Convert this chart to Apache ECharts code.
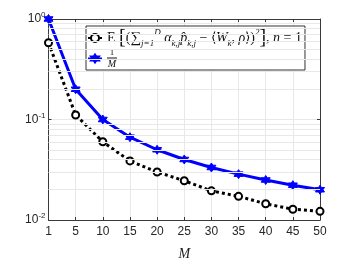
<!DOCTYPE html>
<html><head><meta charset="utf-8">
<script src="https://cdn.jsdelivr.net/npm/echarts@6/dist/echarts.min.js"></script>
<style>html,body{margin:0;padding:0;background:#fff}#c{width:354px;height:266px}</style>
</head><body><div id="c"></div>
<script>
const categories = ['1','5','10','15','20','25','30','35','40','45','50'];
const errorValues = [0.58, 0.111, 0.060, 0.0387, 0.030, 0.0246, 0.0195, 0.0172, 0.0145, 0.0128, 0.0122];
const invValues = [1, 0.2, 0.1, 0.0667, 0.05, 0.04, 0.0333, 0.0286, 0.025, 0.0222, 0.02];
const minorGrid = [0.02,0.03,0.04,0.05,0.06,0.07,0.08,0.09,0.2,0.3,0.4,0.5,0.6,0.7,0.8,0.9];

const STAR = 'path://M50 0L64.43 25L93.3 25L78.87 50L93.3 75L64.43 75L50 100L35.57 75L6.7 75L21.13 50L6.7 25L35.57 25Z';
const axisColor = '#3a3a3a';
const gridColor = '#e8e8e8';
const serif = 'Liberation Serif';
const tc = '#111';

const chart = echarts.init(document.getElementById('c'), null, {renderer:'canvas'});
chart.setOption({
  animation: false,
  backgroundColor: '#fff',
  grid: {left: 48.5, right: 34, top: 19, bottom: 40, containLabel: false},
  legend: {
    orient: 'vertical', left: 86, top: 26,
    backgroundColor: '#fff', borderColor: '#333', borderWidth: 1,
    padding: [2, 3, 1, 1], itemGap: 0, itemWidth: 14, itemHeight: 10,
    data: ['err', 'inv'],
    formatter: function (name) {
      if (name === 'err') {
        return '{rm|E }{big|[}{rm|(}{sum|\u2211}{sub|j=1}{sup|D} {it|\u03b1}{sub|k,j}{it|p\u0302}{sub|k,j}{rm| \u2212 \u27e8}{it|W}{sub|k}{rm|, }{it|\u03c1}{rm|\u27e9)}{sup|2}{big|]}{rm|, }{it|n}{rm| = 1}';
      }
      return '{num|1}\n{bar|}\n{den|M}';
    },
    textStyle: {
      fontFamily: serif, fontSize: 14, color: tc, lineHeight: 20,
      rich: {
        rm: {fontFamily: serif, fontSize: 14, color: tc, lineHeight: 20},
        it: {fontFamily: serif, fontSize: 14, fontStyle: 'italic', color: tc, lineHeight: 20},
        big: {fontFamily: serif, fontSize: 20, color: tc, lineHeight: 20},
        sum: {fontFamily: serif, fontSize: 15, color: tc, lineHeight: 20},
        sub: {fontFamily: serif, fontSize: 9, fontStyle: 'italic', color: tc, verticalAlign: 'bottom', lineHeight: 20},
        sup: {fontFamily: serif, fontSize: 9, fontStyle: 'italic', color: tc, verticalAlign: 'top', lineHeight: 20},
        num: {fontFamily: serif, fontSize: 9, color: tc, lineHeight: 9, width: 10, align: 'center'},
        bar: {height: 1, width: 10, lineHeight: 2, backgroundColor: tc},
        den: {fontFamily: serif, fontSize: 10, fontStyle: 'italic', color: tc, lineHeight: 10, width: 10, align: 'center'}
      }
    }
  },
  xAxis: [{
    type: 'category', data: categories, boundaryGap: false,
    name: 'M', nameLocation: 'middle', nameGap: 27,
    nameTextStyle: {fontFamily: serif, fontStyle: 'italic', fontSize: 14, color: '#222'},
    axisLine: {lineStyle: {color: axisColor, width: 1}},
    axisTick: {inside: true, length: 3, lineStyle: {color: axisColor}},
    axisLabel: {fontFamily: 'Liberation Sans', fontSize: 12, color: '#262626', margin: 6},
    splitLine: {show: true, lineStyle: {color: gridColor, width: 1}}
  }, {
    type: 'category', data: categories, boundaryGap: false, position: 'top',
    axisLine: {lineStyle: {color: axisColor, width: 1}},
    axisTick: {inside: true, length: 3, lineStyle: {color: axisColor}},
    axisLabel: {show: false}, splitLine: {show: false}
  }],
  yAxis: [{
    type: 'log', logBase: 10, min: 0.01, max: 1,
    axisLine: {show: true, lineStyle: {color: axisColor, width: 1}},
    axisTick: {show: true, inside: true, length: 3, lineStyle: {color: axisColor}},
    axisLabel: {
      margin: 3, color: '#262626', fontFamily: 'Liberation Sans', fontSize: 12,
      formatter: function (v) {
        const e = Math.round(Math.log10(v));
        return '{b|10}{s|' + e + '}';
      },
      rich: {
        b: {fontFamily: 'Liberation Sans', fontSize: 12, color: '#262626', lineHeight: 16},
        s: {fontFamily: 'Liberation Sans', fontSize: 8, color: '#262626', verticalAlign: 'top', lineHeight: 16}
      }
    },
    splitLine: {show: true, lineStyle: {color: gridColor, width: 1}}
  }, {
    type: 'log', logBase: 10, min: 0.01, max: 1, position: 'right',
    axisLine: {show: true, lineStyle: {color: axisColor, width: 1}},
    axisTick: {show: true, inside: true, length: 3, lineStyle: {color: axisColor}},
    axisLabel: {show: false}, splitLine: {show: false}
  }],
  series: [{
    name: 'grid', type: 'line', data: categories.map(() => null), z: 1, silent: true,
    symbol: 'none', lineStyle: {opacity: 0},
    markLine: {
      silent: true, symbol: 'none', label: {show: false}, animation: false,
      lineStyle: {color: gridColor, type: 'solid', width: 1},
      data: minorGrid.map(v => ({yAxis: v}))
    }
  }, {
    name: 'err', type: 'line', data: errorValues, z: 3,
    symbol: 'circle', symbolSize: 7,
    lineStyle: {color: '#000', width: 3, type: [3, 3], cap: 'butt'},
    itemStyle: {color: '#fff', borderColor: '#000', borderWidth: 2}
  }, {
    name: 'inv', type: 'line', data: invValues, z: 4,
    symbol: STAR, symbolSize: 9,
    lineStyle: {color: '#0000ff', width: 3},
    itemStyle: {color: '#0000ff', borderColor: '#0000ff', borderWidth: 1}
  }]
});
</script></body></html>
